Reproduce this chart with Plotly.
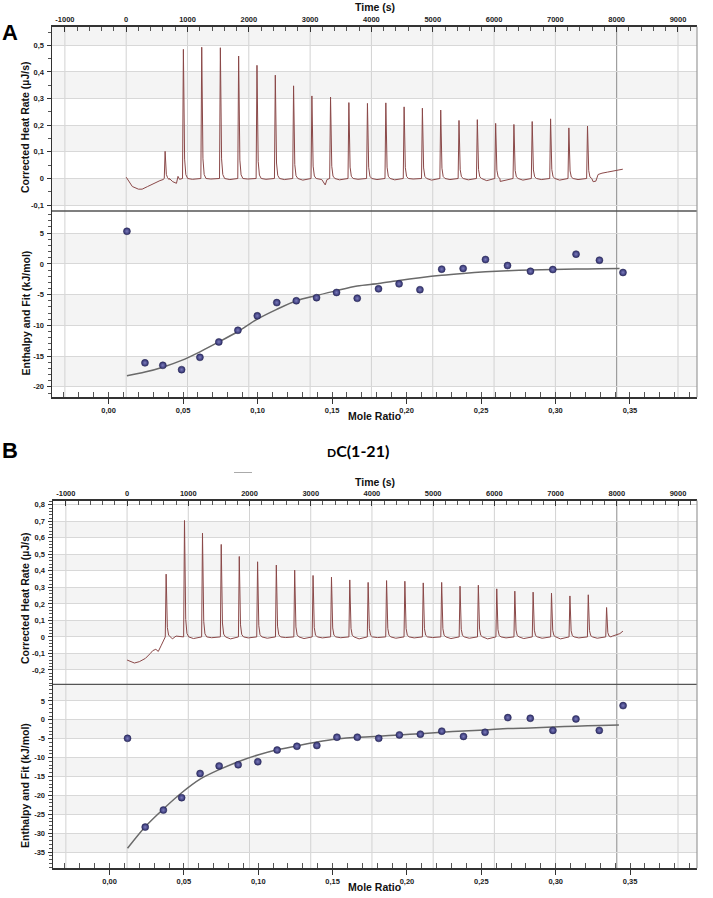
import plotly.graph_objects as go

# ---------------- DATA ----------------
time_ticks = [-1000, 0, 1000, 2000, 3000, 4000, 5000, 6000, 7000, 8000, 9000]
mole_ticks = [0.0, 0.05, 0.10, 0.15, 0.20, 0.25, 0.30, 0.35]
mole_ticktext = ["0,00", "0,05", "0,10", "0,15", "0,20", "0,25", "0,30", "0,35"]

# Panel A thermogram
A_peak_t = [635, 933, 1232, 1536, 1834, 2133, 2432, 2730, 3029, 3333, 3632, 3935,
            4235, 4533, 4831, 5130, 5428, 5727, 6026, 6324, 6622, 6922, 7220, 7524]
A_peak_h = [0.102, 0.485, 0.493, 0.491, 0.46, 0.425, 0.388, 0.348, 0.31, 0.306, 0.285, 0.282,
            0.284, 0.269, 0.264, 0.257, 0.218, 0.221, 0.207, 0.203, 0.214, 0.224, 0.19, 0.197]
A_base_t = [0, 40, 100, 200, 260, 350, 450, 550, 600, 700, 760, 820, 845, 870, 1080, 1380,
            1690, 1980, 2280, 2580, 2880, 3190, 3246, 3275, 3480, 3780, 4090, 4380, 4680, 4980,
            5280, 5580, 5880, 6100, 6470, 6770, 7070, 7370, 7616, 7660, 7697, 7760, 7850, 7950,
            8050, 8100]
A_base_v = [0.005, -0.01, -0.03, -0.04, -0.04, -0.03, -0.018, -0.008, -0.004, -0.004, -0.012,
            -0.018, 0.008, -0.003, -0.003, -0.002, -0.004, -0.002, -0.003, -0.004, -0.006, -0.004,
            -0.024, -0.004, -0.005, -0.003, -0.004, -0.005, -0.002, -0.006, -0.004, -0.005, -0.008,
            -0.011, -0.006, -0.004, -0.006, -0.004, -0.012, -0.01, 0.015, 0.02, 0.024, 0.028,
            0.033, 0.035]

# Panel A enthalpy
A_mr = [0.0123, 0.0244, 0.0364, 0.049, 0.0613, 0.074, 0.0868, 0.0998, 0.1129, 0.126, 0.1396,
        0.153, 0.1669, 0.1812, 0.195, 0.209, 0.2236, 0.238, 0.253, 0.2678, 0.2832, 0.2982,
        0.3138, 0.3295, 0.3453]
A_dh = [5.3, -16.1, -16.5, -17.2, -15.2, -12.7, -10.8, -8.45, -6.3, -6.0, -5.5, -4.65, -5.6,
        -4.06, -3.25, -4.2, -0.86, -0.75, 0.71, -0.27, -1.2, -0.92, 1.58, 0.6, -1.4]
A_fit_mr = [0.0123, 0.0244, 0.0364, 0.049, 0.0613, 0.074, 0.0868, 0.0998, 0.1129, 0.126,
            0.1396, 0.153, 0.1669, 0.1812, 0.195, 0.209, 0.2236, 0.238, 0.253, 0.2678, 0.2832,
            0.2982, 0.3138, 0.3295, 0.343]
A_fit = [-18.2, -17.6, -16.8, -15.7, -14.3, -12.7, -11.0, -9.0, -7.4, -6.0, -5.15, -4.35, -3.6,
         -3.2, -2.7, -2.25, -1.85, -1.55, -1.3, -1.12, -1.0, -0.92, -0.85, -0.78, -0.75]

# Panel B thermogram
B_peak_t = [638, 938, 1232, 1538, 1833, 2132, 2438, 2738, 3038, 3339, 3638, 3938, 4239, 4538,
            4838, 5139, 5439, 5738, 6039, 6334, 6633, 6933, 7234, 7534, 7833]
B_peak_h = [0.38, 0.705, 0.628, 0.56, 0.487, 0.455, 0.435, 0.404, 0.372, 0.362, 0.345, 0.33,
            0.341, 0.337, 0.327, 0.33, 0.307, 0.313, 0.291, 0.277, 0.271, 0.265, 0.248, 0.255,
            0.178]
B_base_t = [0, 60, 120, 200, 300, 380, 420, 470, 510, 560, 600, 620, 740, 800, 1085, 1380,
            1690, 1980, 2290, 2590, 2890, 3190, 3490, 3790, 4090, 4390, 4690, 4990, 5290, 5590,
            5890, 6190, 6480, 6780, 7080, 7380, 7680, 7930, 7990, 8050, 8100]
B_base_v = [-0.14, -0.15, -0.158, -0.15, -0.13, -0.1, -0.083, -0.075, -0.088, -0.05, -0.02,
            -0.005, -0.012, 0.005, -0.01, -0.005, -0.012, -0.006, -0.008, -0.004, -0.01, -0.006,
            -0.005, -0.012, -0.004, -0.008, -0.006, -0.004, -0.01, -0.008, -0.012, -0.006, -0.01,
            -0.008, -0.012, -0.006, -0.008, 0.005, 0.012, 0.02, 0.035]

# Panel B enthalpy
B_mr = [0.0121, 0.024, 0.0362, 0.0485, 0.0609, 0.0737, 0.0865, 0.0997, 0.1127, 0.126, 0.1394,
        0.1529, 0.1666, 0.181, 0.1949, 0.209, 0.2234, 0.238, 0.2525, 0.2678, 0.2829, 0.2981,
        0.3136, 0.3293, 0.3453]
B_dh = [-4.9, -28.4, -23.9, -20.6, -14.2, -12.2, -11.9, -11.1, -8.0, -7.0, -6.8, -4.6, -4.6,
        -4.9, -4.0, -3.8, -3.0, -4.4, -3.3, 0.58, 0.41, -2.8, 0.23, -2.8, 3.76]
B_fit_mr = [0.0121, 0.024, 0.0362, 0.0485, 0.0609, 0.0737, 0.0865, 0.0997, 0.1127, 0.126,
            0.1394, 0.1529, 0.1666, 0.181, 0.1949, 0.209, 0.2234, 0.238, 0.2525, 0.2678, 0.2829,
            0.2981, 0.3136, 0.3293, 0.3425]
B_fit = [-34.0, -28.3, -23.6, -19.3, -15.7, -13.2, -11.1, -9.3, -7.9, -6.9, -5.9, -5.1, -4.6,
         -4.35, -4.0, -3.66, -3.3, -2.95, -2.7, -2.3, -2.15, -1.9, -1.7, -1.5, -1.4]

# y-axis ticks
A_heat_ticks = [-0.1, 0.0, 0.1, 0.2, 0.3, 0.4, 0.5]
A_heat_text = ["-0,1", "0", "0,1", "0,2", "0,3", "0,4", "0,5"]
A_dh_ticks = [-20, -15, -10, -5, 0, 5]
B_heat_ticks = [-0.2, -0.1, 0.0, 0.1, 0.2, 0.3, 0.4, 0.5, 0.6, 0.7, 0.8]
B_heat_text = ["-0,2", "-0,1", "0", "0,1", "0,2", "0,3", "0,4", "0,5", "0,6", "0,7", "0,8"]
B_dh_ticks = [-35, -30, -25, -20, -15, -10, -5, 0, 5]

# axis ranges
TIME_RANGE = [-1210, 9310]
MOLE_RANGE = [-0.038, 0.395]
A_heat_range = [-0.122, 0.57]
A_dh_range = [-21.7, 8.6]
B_heat_range = [-0.287, 0.826]
B_dh_range = [-39.3, 9.4]

# shaded bands (lower, upper)
A_heat_bands = [(-0.1, 0.0), (0.1, 0.2), (0.3, 0.4), (0.5, 0.57)]
A_dh_bands = [(-20, -15), (-10, -5), (0, 5)]
B_heat_bands = [(-0.2, -0.1), (0.0, 0.1), (0.2, 0.3), (0.4, 0.5), (0.6, 0.7)]
B_dh_bands = [(-35, -30), (-25, -20), (-15, -10), (-5, 0), (5, 9.4)]

# ---------------- HELPERS ----------------
W, H = 713, 898


def px(x):
    return x / W


def py(y):
    return 1 - y / H


def thermogram(base_t, base_v, peak_t, peak_h):
    pts = list(zip(base_t, base_v))
    for t, h in zip(peak_t, peak_h):
        pts += [(t - 14, 0.0), (t, h), (t + 7, h * 0.5), (t + 20, h * 0.15),
                (t + 40, h * 0.03), (t + 70, 0.0)]
    pts.sort(key=lambda p: p[0])
    return [p[0] for p in pts], [p[1] for p in pts]


FONT = "Liberation Sans, Arial, sans-serif"
LINE_C = "#8a4848"
DOT_C = "#2e2e6c"
FIT_C = "#6a6a6a"

fig = go.Figure()

A_xdom = [px(52), px(697)]
B_xdom = [px(53), px(697)]
A_top = [py(211), py(26.7)]
A_bot = [py(397.3), py(211)]
B_top = [py(684.3), py(500.5)]
B_bot = [py(868.3), py(684.3)]

# thermograms
tA, vA = thermogram(A_base_t, A_base_v, A_peak_t, A_peak_h)
tB, vB = thermogram(B_base_t, B_base_v, B_peak_t, B_peak_h)
fig.add_trace(go.Scatter(x=tA, y=vA, mode="lines", line=dict(color=LINE_C, width=1),
                         xaxis="x", yaxis="y", hoverinfo="skip"))
fig.add_trace(go.Scatter(x=tB, y=vB, mode="lines", line=dict(color=LINE_C, width=1),
                         xaxis="x3", yaxis="y3", hoverinfo="skip"))

# fits and points
for xa, ya, fmr, fv, mr, dh in [("x2", "y2", A_fit_mr, A_fit, A_mr, A_dh),
                                 ("x4", "y4", B_fit_mr, B_fit, B_mr, B_dh)]:
    fig.add_trace(go.Scatter(x=fmr, y=fv, mode="lines",
                             line=dict(color=FIT_C, width=1.5, shape="spline", smoothing=0.8),
                             xaxis=xa, yaxis=ya, hoverinfo="skip"))
    fig.add_trace(go.Scatter(x=mr, y=dh, mode="markers",
                             marker=dict(size=7, color=DOT_C,
                                         gradient=dict(type="radial", color="#7c7cbc"),
                                         line=dict(width=0.5, color="#24244e")),
                             xaxis=xa, yaxis=ya, hoverinfo="skip"))

tickfont = dict(family=FONT, size=7.5, color="#222", weight="bold")

time_text = [str(t) for t in time_ticks]


def time_axis(dom, anchor):
    return dict(domain=dom, anchor=anchor, side="top", range=TIME_RANGE,
                tickvals=time_ticks, ticktext=time_text, ticks="inside", ticklen=5,
                tickcolor="#333", minor=dict(dtick=200, tick0=0, ticks="inside", ticklen=4,
                                             tickcolor="#555"),
                showline=True, linecolor="#333", linewidth=1.5, showgrid=False,
                zeroline=False, tickfont=tickfont, fixedrange=True)


def mole_axis(dom, anchor):
    return dict(domain=dom, anchor=anchor, side="bottom", range=MOLE_RANGE,
                tickvals=mole_ticks, ticktext=mole_ticktext, ticks="outside", ticklen=5,
                tickcolor="#333", minor=dict(dtick=0.01, tick0=0, ticks="inside", ticklen=5,
                                             tickcolor="#555"),
                showline=True, linecolor="#333", linewidth=1.5, showgrid=False,
                zeroline=False, tickfont=tickfont, fixedrange=True)


def y_axis(dom, anchor, rng, tv, tt, minor_dt):
    return dict(domain=dom, anchor=anchor, range=rng, tickvals=tv, ticktext=tt,
                ticks="outside", ticklen=4, tickcolor="#333",
                minor=dict(dtick=minor_dt, ticks="outside", ticklen=3, tickcolor="#555"),
                showline=True, linecolor="#333", linewidth=1.5, showgrid=True,
                gridcolor="#d8d8d8", gridwidth=1, zeroline=False, tickfont=tickfont,
                ticklabelstandoff=1, fixedrange=True)


fig.update_layout(
    width=W, height=H, margin=dict(l=0, r=0, t=0, b=0),
    paper_bgcolor="white", plot_bgcolor="white", showlegend=False,
    xaxis=time_axis(A_xdom, "y"),
    yaxis=y_axis(A_top, "x", A_heat_range, A_heat_ticks, A_heat_text, 0.05),
    xaxis2=mole_axis(A_xdom, "y2"),
    yaxis2=y_axis(A_bot, "x2", A_dh_range, A_dh_ticks, [str(v) for v in A_dh_ticks], 1),
    xaxis3=time_axis(B_xdom, "y3"),
    yaxis3=y_axis(B_top, "x3", B_heat_range, B_heat_ticks, B_heat_text, 0.02),
    xaxis4=mole_axis(B_xdom, "y4"),
    yaxis4=y_axis(B_bot, "x4", B_dh_range, B_dh_ticks, [str(v) for v in B_dh_ticks], 1),
)

shapes = []
# shaded bands
for bands, xr, yr in [(A_heat_bands, "x", "y"), (A_dh_bands, "x2", "y2"),
                      (B_heat_bands, "x3", "y3"), (B_dh_bands, "x4", "y4")]:
    for lo, hi in bands:
        shapes.append(dict(type="rect", xref=xr + " domain", yref=yr, x0=0, x1=1, y0=lo, y1=hi,
                           fillcolor="#f4f4f4", line=dict(width=0), layer="below"))

# vertical time gridlines spanning both sub-panels
for xr, y0, y1 in [("x", A_bot[0], A_top[1]), ("x3", B_bot[0], B_top[1])]:
    for t in time_ticks:
        shapes.append(dict(type="line", xref=xr, yref="paper", x0=t, x1=t, y0=y0, y1=y1,
                           line=dict(color="#8c8c8c" if t == 8000 else "#d2d2d2", width=1),
                           layer="below"))

# separators and right borders
for xd, sep, y0, y1 in [(A_xdom, A_top[0], A_bot[0], A_top[1]),
                        (B_xdom, B_top[0], B_bot[0], B_top[1])]:
    shapes.append(dict(type="line", xref="paper", yref="paper", x0=xd[0], x1=xd[1],
                       y0=sep, y1=sep, line=dict(color="#555", width=1.3)))
    shapes.append(dict(type="line", xref="paper", yref="paper", x0=xd[1], x1=xd[1],
                       y0=y0, y1=y1, line=dict(color="#9a9a9a", width=1.2)))

# small stray dash under panel-B title
shapes.append(dict(type="line", xref="paper", yref="paper", x0=px(234), x1=px(252),
                   y0=py(472.5), y1=py(472.5), line=dict(color="#aaaaaa", width=1)))

fig.update_layout(shapes=shapes)

title_font = dict(family=FONT, size=10.5, color="#111", weight="bold")
ann = [
    dict(text="A", x=px(0), y=py(32), xanchor="left", yanchor="middle",
         font=dict(family=FONT, size=22, color="black", weight="bold")),
    dict(text="B", x=px(0), y=py(451), xanchor="left", yanchor="middle",
         font=dict(family=FONT, size=22, color="black", weight="bold")),
    dict(text="<span style='font-size:12px'>D</span>C(1-21)", x=px(358), y=py(451),
         xanchor="center", yanchor="middle",
         font=dict(family="Lato, Open Sans, sans-serif", size=16, color="black", weight="bold")),
    dict(text="Time (s)", x=px(375), y=py(7), xanchor="center", yanchor="middle", font=title_font),
    dict(text="Time (s)", x=px(375), y=py(481.5), xanchor="center", yanchor="middle",
         font=title_font),
    dict(text="Mole Ratio", x=px(375), y=py(416), xanchor="center", yanchor="middle",
         font=title_font),
    dict(text="Mole Ratio", x=px(375), y=py(887), xanchor="center", yanchor="middle",
         font=title_font),
    dict(text="Corrected Heat Rate (µJ/s)", x=px(25), y=py(127), textangle=-90,
         xanchor="center", yanchor="middle", font=title_font),
    dict(text="Enthalpy and Fit (kJ/mol)", x=px(25), y=py(313.5), textangle=-90,
         xanchor="center", yanchor="middle", font=title_font),
    dict(text="Corrected Heat Rate (µJ/s)", x=px(25), y=py(598), textangle=-90,
         xanchor="center", yanchor="middle", font=title_font),
    dict(text="Enthalpy and Fit (kJ/mol)", x=px(25), y=py(786), textangle=-90,
         xanchor="center", yanchor="middle", font=title_font),
]
for a in ann:
    a.update(xref="paper", yref="paper", showarrow=False)
fig.update_layout(annotations=ann)

fig.write_html("out.html", config={"displayModeBar": False, "staticPlot": True},
               post_script="document.body.style.margin='0px';"
                           "document.body.style.overflow='hidden';")
